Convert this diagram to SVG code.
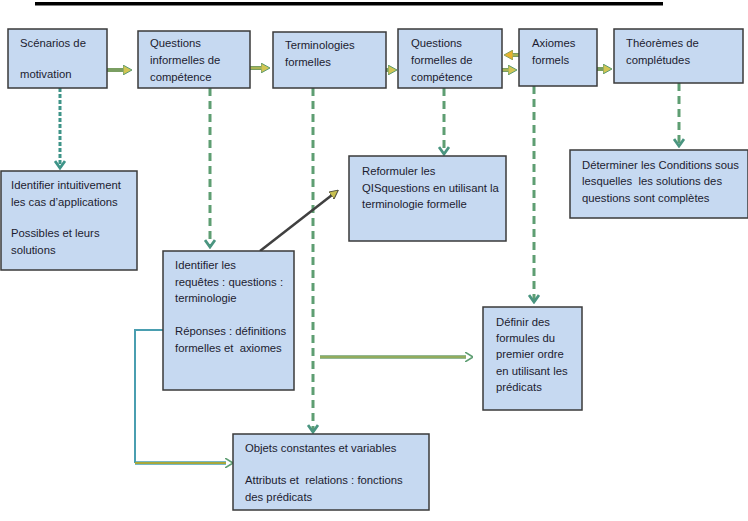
<svg xmlns="http://www.w3.org/2000/svg" width="748" height="521" viewBox="0 0 748 521">
<style>
.box{fill:#C6D9F1;stroke:#3A3A3A;stroke-width:1.5}
.t{font-family:"Liberation Sans",Arial,sans-serif;font-size:11.3px;fill:#1c1c30;white-space:pre}
.thick{stroke:#7A9E62;stroke-width:4;fill:none}
.thin-in{stroke:#C8C24E;stroke-width:1.2;fill:none}
.dteal{stroke:#3E9488;stroke-width:3;stroke-dasharray:4 2;fill:none}
.dgreen{stroke:#5E9E72;stroke-width:3;stroke-dasharray:8 5;fill:none}
</style>
<defs>
<marker id="ah" viewBox="0 0 9 10" markerWidth="9" markerHeight="10" refX="1" refY="5" orient="auto" markerUnits="userSpaceOnUse">
<path d="M0,0 L9,5 L0,10 z" fill="#D2C552" stroke="#5C9A70" stroke-width="1"/>
</marker>
<marker id="ahOr" viewBox="0 0 9 10" markerWidth="9" markerHeight="10" refX="1" refY="5" orient="auto" markerUnits="userSpaceOnUse">
<path d="M0,0 L9,5 L0,10 z" fill="#E8B22E" stroke="#8AA05A" stroke-width="1"/>
</marker>
<marker id="chevT" viewBox="0 0 10 12" markerWidth="10" markerHeight="12" refX="8" refY="6" orient="auto" markerUnits="userSpaceOnUse">
<path d="M1,1 L8,6 L1,11" fill="none" stroke="#3E9488" stroke-width="2.8"/>
</marker>
<marker id="chevG" viewBox="0 0 10 12" markerWidth="10" markerHeight="12" refX="8" refY="6" orient="auto" markerUnits="userSpaceOnUse">
<path d="M1,1 L8,6 L1,11" fill="none" stroke="#4A9580" stroke-width="2.8"/>
</marker>
<marker id="ahDark" viewBox="0 0 9 9" markerWidth="9" markerHeight="9" refX="1" refY="4.5" orient="auto" markerUnits="userSpaceOnUse">
<path d="M0,0 L9,4.5 L0,9 z" fill="#C8C050" stroke="#505040" stroke-width="1"/>
</marker>
<marker id="ahOpen" viewBox="0 0 8 10" markerWidth="8" markerHeight="10" refX="1" refY="5" orient="auto" markerUnits="userSpaceOnUse">
<path d="M0,0 L8,5 L0,10" fill="none" stroke="#5E9E72" stroke-width="1.5"/>
</marker>
</defs>

<rect x="35" y="2" width="628" height="3.5" fill="#000"/>

<g id="connectors">
<line class="thick" x1="107" y1="70" x2="124" y2="70" marker-end="url(#ah)"/>
<line class="thick" x1="250" y1="68" x2="262" y2="68" marker-end="url(#ah)"/>
<line class="thin-in" x1="250" y1="68" x2="262" y2="68"/>
<line class="thick" x1="386" y1="70" x2="389" y2="70" marker-end="url(#ah)"/>
<line class="thick" x1="519" y1="55" x2="512" y2="55" marker-end="url(#ahOr)"/>
<line class="thin-in" x1="519" y1="55" x2="512" y2="55"/>
<line class="thick" x1="502" y1="70" x2="509" y2="70" marker-end="url(#ah)"/>
<line class="thin-in" x1="502" y1="70" x2="509" y2="70"/>
<line class="thick" x1="597" y1="69" x2="604" y2="69" marker-end="url(#ah)"/>

<line class="dteal" x1="60" y1="88" x2="60" y2="168" marker-end="url(#chevT)"/>
<line class="dgreen" x1="210" y1="88" x2="210" y2="247" marker-end="url(#chevG)"/>
<line class="dgreen" x1="313" y1="88" x2="313" y2="432" marker-end="url(#chevG)"/>
<line class="dgreen" x1="444" y1="88" x2="444" y2="154" marker-end="url(#chevG)"/>
<line class="dgreen" x1="534" y1="86" x2="534" y2="302" marker-end="url(#chevG)"/>
<line class="dgreen" x1="679" y1="83" x2="679" y2="146" marker-end="url(#chevG)"/>

<line x1="260" y1="251" x2="332" y2="195" stroke="#404040" stroke-width="2.5" marker-end="url(#ahDark)"/>

<line x1="320" y1="357" x2="466" y2="357" stroke="#6FA070" stroke-width="3.5"/>
<line x1="320" y1="357" x2="466" y2="357" stroke="#B5B84A" stroke-width="1.2" marker-end="url(#ahOpen)"/>

<polyline points="163,330 135,330 135,463" fill="none" stroke="#4A9EB0" stroke-width="2"/>
<line x1="135" y1="463" x2="226" y2="463" stroke="#4A9EB0" stroke-width="3.5"/>
<line x1="135" y1="463" x2="226" y2="463" stroke="#A8A83A" stroke-width="1.8" marker-end="url(#ahOpen)"/>
</g>

<g id="n1"><rect class="box" x="8" y="29" width="99" height="59"/>
<text class="t" x="20" y="47">Scénarios de</text><text class="t" x="20" y="78">motivation</text></g>

<g id="n2"><rect class="box" x="138" y="31" width="112" height="57"/>
<text class="t" x="150" y="47">Questions</text><text class="t" x="150" y="64">informelles de</text><text class="t" x="150" y="81">compétence</text></g>

<g id="n3"><rect class="box" x="273" y="32" width="113" height="56"/>
<text class="t" x="285" y="49">Terminologies</text><text class="t" x="285" y="66">formelles</text></g>

<g id="n4"><rect class="box" x="398" y="29" width="104" height="59"/>
<text class="t" x="411" y="47">Questions</text><text class="t" x="411" y="64">formelles de</text><text class="t" x="411" y="81">compétence</text></g>

<g id="n5"><rect class="box" x="519" y="29" width="78" height="57"/>
<text class="t" x="532" y="47">Axiomes</text><text class="t" x="532" y="64">formels</text></g>

<g id="n6"><rect class="box" x="614" y="29" width="129" height="54"/>
<text class="t" x="626" y="47">Théorèmes de</text><text class="t" x="626" y="64">complétudes</text></g>

<g id="n7"><rect class="box" x="1" y="171" width="136" height="99"/>
<text class="t" x="11" y="189">Identifier intuitivement</text><text class="t" x="11" y="206">les cas d’applications</text>
<text class="t" x="11" y="237">Possibles et leurs</text><text class="t" x="11" y="254">solutions</text></g>

<g id="n8"><rect class="box" x="163" y="251" width="131" height="139"/>
<text class="t" x="175" y="269">Identifier les</text><text class="t" x="175" y="286">requêtes : questions :</text><text class="t" x="175" y="302">terminologie</text>
<text class="t" x="175" y="335">Réponses : définitions</text><text class="t" x="175" y="352">formelles et  axiomes</text></g>

<g id="n9"><rect class="box" x="349" y="156" width="157" height="85"/>
<text class="t" x="362" y="175">Reformuler les</text><text class="t" x="362" y="192">QISquestions en utilisant la</text><text class="t" x="362" y="208">terminologie formelle</text></g>

<g id="n10"><rect class="box" x="570" y="150" width="178" height="68"/>
<text class="t" x="582" y="169">Déterminer les Conditions sous</text><text class="t" x="582" y="185">lesquelles  les solutions des</text><text class="t" x="582" y="202">questions sont complètes</text></g>

<g id="n11"><rect class="box" x="483" y="307" width="99" height="103"/>
<text class="t" x="496" y="326">Définir des</text><text class="t" x="496" y="342">formules du</text><text class="t" x="496" y="358">premier ordre</text><text class="t" x="496" y="375">en utilisant les</text><text class="t" x="496" y="391">prédicats</text></g>

<g id="n12"><rect class="box" x="233" y="434" width="196" height="76"/>
<text class="t" x="245" y="452">Objets constantes et variables</text>
<text class="t" x="245" y="484">Attributs et  relations : fonctions</text><text class="t" x="245" y="501">des prédicats</text></g>
</svg>
